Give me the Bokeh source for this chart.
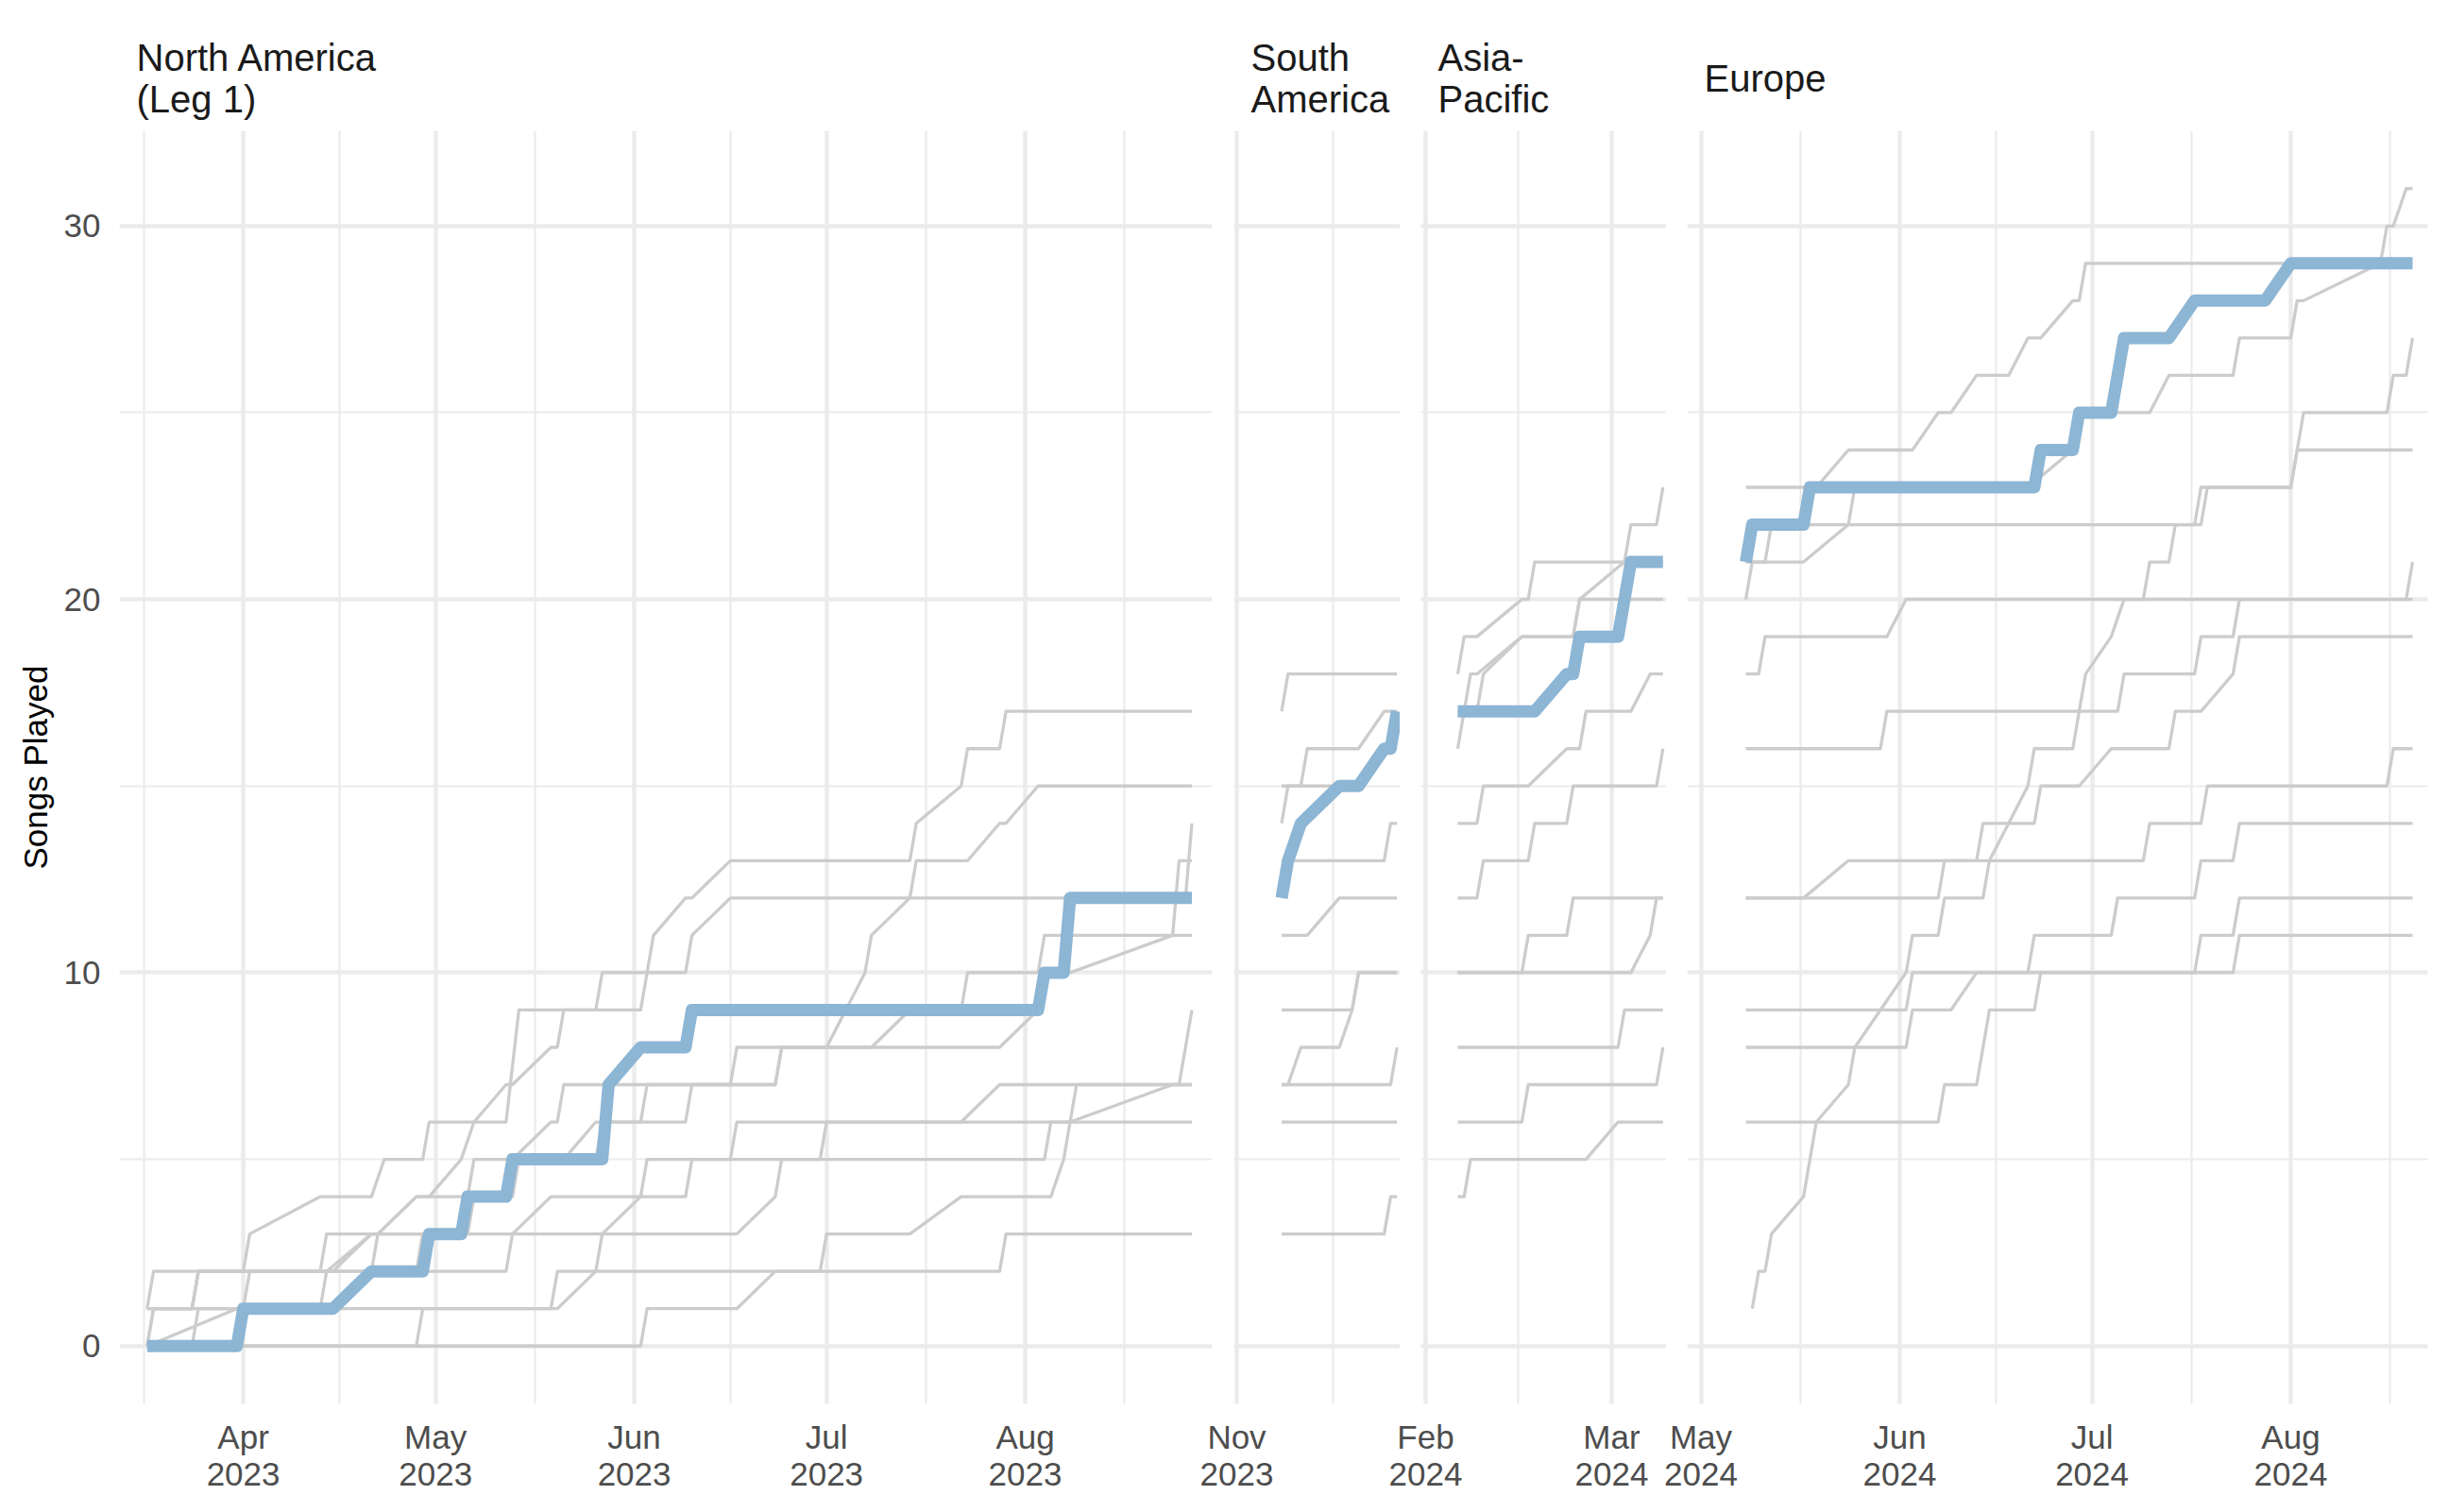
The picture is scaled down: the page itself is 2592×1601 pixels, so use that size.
import pandas as pd
from bokeh.plotting import figure
from bokeh.layouts import row
from bokeh.models import Range1d, FixedTicker, Grid
from bokeh.embed import file_html
from bokeh.resources import INLINE

FONT = "Liberation Sans"
GREY = "#CCCCCC"
BLUE = "#8DB5D4"
GRID = "#EBEBEB"

# ---------------- data ----------------
TITLES = ["North America\n(Leg 1)", "South\nAmerica", "Asia-\nPacific", "Europe"]
Y_TICKS = [0, 10, 20, 30]
Y_MINOR = [5, 15, 25]

NA_TICKS = ["2023-04-01", "2023-05-01", "2023-06-01", "2023-07-01", "2023-08-01"]
NA_MINOR = ["2023-03-16 12:00", "2023-04-16", "2023-05-16 12:00", "2023-06-16", "2023-07-16 12:00", "2023-08-16 12:00"]
SA_TICKS = ["2023-11-01"]
SA_MINOR = ["2023-11-16"]
AP_TICKS = ["2024-02-01", "2024-03-01"]
AP_MINOR = ["2024-02-15 12:00"]
EU_TICKS = ["2024-05-01", "2024-06-01", "2024-07-01", "2024-08-01"]
EU_MINOR = ["2024-05-16 12:00", "2024-06-16", "2024-07-16 12:00", "2024-08-16 12:00"]

# North America (Leg 1), 2023
NA_BLUE = [("03-17",0),("03-31",0),("04-01",1),("04-15",1),("04-21",2),("04-29",2),("04-30",3),("05-05",3),("05-06",4),("05-12",4),("05-13",5),("05-27",5),("05-28",7),("06-02",8),("06-09",8),("06-10",9),("08-03",9),("08-04",10),("08-07",10),("08-08",12),("08-27",12)]
NA_S1 = [("03-17",1),("03-18",2),("04-01",2),("04-02",3),("04-13",4),("04-21",4),("04-23",5),("04-29",5),("04-30",6),("05-12",6),("05-14",9),("06-02",9),("06-03",10),("06-04",11),("06-09",12),("06-10",12),("06-16",13),("07-14",13),("07-15",14),("07-22",15),("07-23",16),("07-28",16),("07-29",17),("08-27",17)]
NA_S2 = [("03-17",0),("03-18",1),("03-24",1),("03-25",2),("04-14",2),("04-21",3),("04-22",3),("04-28",4),("04-30",4),("05-05",5),("05-07",6),("05-12",7),("05-13",7),("05-19",8),("05-20",8),("05-21",9),("05-26",9),("05-27",10),("06-09",10),("06-10",11),("06-16",12),("07-14",12),("07-15",13),("07-23",13),("07-28",14),("07-29",14),("08-03",15),("08-27",15)]
NA_S3 = [("03-17",1),("03-24",1),("03-25",2),("04-13",2),("04-14",3),("04-22",3),("04-28",4),("05-06",4),("05-07",5),("05-13",5),("05-19",6),("05-20",6),("05-21",7),("06-23",7),("06-24",8),("07-01",8),("07-07",10),("07-08",11),("07-14",12),("08-26",12),("08-27",14)]
NA_S4 = [("03-17",1),("03-24",1),("03-25",2),("04-15",2),("04-21",3),("05-05",3),("05-06",4),("05-13",4),("05-14",5),("05-26",5),("05-27",6),("06-02",6),("06-03",7),("06-16",7),("06-17",8),("07-28",8),("08-03",9),("08-04",10),("08-08",10),("08-24",11),("08-25",13),("08-27",13)]
NA_S5 = [("03-17",0),("03-18",1),("04-13",1),("04-14",2),("04-21",2),("04-22",3),("05-06",3),("05-07",4),("05-12",4),("05-13",5),("05-21",5),("05-26",6),("06-09",6),("06-10",7),("06-23",7),("06-24",8),("07-08",8),("07-14",9),("07-22",9),("07-23",10),("08-03",10),("08-04",11),("08-27",11)]
NA_S6 = [("03-17",0),("03-24",0),("03-25",1),("04-01",1),("04-02",2),("04-28",2),("04-29",3),("05-13",3),("05-19",4),("06-02",4),("06-03",5),("06-30",5),("07-01",6),("08-08",6),("08-24",7),("08-25",7),("08-27",9)]
NA_S7 = [("03-17",0),("03-31",1),("04-15",1),("04-21",2),("05-12",2),("05-13",3),("05-27",3),("06-02",4),("06-09",4),("06-10",5),("06-16",5),("06-17",6),("07-22",6),("07-28",7),("08-27",7)]
NA_S8 = [("03-17",0),("04-28",0),("04-29",1),("05-19",1),("05-20",2),("06-30",2),("07-01",3),("07-14",3),("07-22",4),("08-05",4),("08-07",5),("08-09",7),("08-27",7)]
NA_S9 = [("03-17",1),("05-20",1),("05-26",2),("05-27",3),("06-17",3),("06-23",4),("06-24",5),("08-04",5),("08-05",6),("08-27",6)]
NA_S10 = [("03-17",0),("06-02",0),("06-03",1),("06-17",1),("06-23",2),("07-28",2),("07-29",3),("08-27",3)]

# South America, 2023
SA_BLUE = [("11-08",12),("11-09",13),("11-11",14),("11-17",15),("11-20",15),("11-24",16),("11-25",16),("11-26",17)]
SA_S1 = [("11-08",17),("11-09",18),("11-26",18)]
SA_S2 = [("11-08",15),("11-11",15),("11-12",16),("11-20",16),("11-24",17),("11-26",17)]
SA_S3 = [("11-08",14),("11-09",15),("11-20",15),("11-24",16),("11-26",16)]
SA_S4 = [("11-08",13),("11-24",13),("11-25",14),("11-26",14)]
SA_S5 = [("11-08",11),("11-12",11),("11-17",12),("11-26",12)]
SA_S6 = [("11-08",9),("11-19",9),("11-20",10),("11-26",10)]
SA_S7 = [("11-08",7),("11-09",7),("11-11",8),("11-17",8),("11-19",9),("11-20",10),("11-26",10)]
SA_S8 = [("11-08",7),("11-25",7),("11-26",8)]
SA_S9 = [("11-08",6),("11-26",6)]
SA_S10 = [("11-08",3),("11-24",3),("11-25",4),("11-26",4)]

# Asia-Pacific, 2024
AP_BLUE = [("02-06",17),("02-18",17),("02-23",18),("02-24",18),("02-25",19),("03-02",19),("03-04",21),("03-09",21)]
AP_S1 = [("02-06",18),("02-07",19),("02-09",19),("02-16",20),("02-17",20),("02-18",21),("03-09",21)]
AP_S2 = [("02-06",17),("02-09",17),("02-10",18),("02-16",19),("02-24",19),("02-25",20),("03-09",20)]
AP_S3 = [("02-06",16),("02-08",18),("02-09",18),("02-16",19),("02-24",19),("02-25",20),("03-03",21),("03-04",22),("03-08",22),("03-09",23)]
AP_S4 = [("02-06",12),("02-09",12),("02-10",13),("02-17",13),("02-18",14),("02-23",14),("02-24",15),("03-08",15),("03-09",16)]
AP_S5 = [("02-06",14),("02-09",14),("02-10",15),("02-17",15),("02-23",16),("02-25",16),("02-26",17),("03-04",17),("03-07",18),("03-09",18)]
AP_S6 = [("02-06",10),("02-16",10),("02-17",11),("02-23",11),("02-24",12),("03-09",12)]
AP_S7 = [("02-06",10),("03-04",10),("03-07",11),("03-08",12),("03-09",12)]
AP_S8 = [("02-06",8),("03-02",8),("03-03",9),("03-09",9)]
AP_S9 = [("02-06",6),("02-16",6),("02-17",7),("03-08",7),("03-09",8)]
AP_S10 = [("02-06",4),("02-07",4),("02-08",5),("02-26",5),("03-02",6),("03-09",6)]

# Europe, 2024
EU_BLUE = [("05-08",21),("05-09",22),("05-17",22),("05-18",23),("06-22",23),("06-23",24),("06-28",24),("06-29",25),("07-04",25),("07-06",27),("07-13",27),("07-17",28),("07-28",28),("08-01",29),("08-20",29)]
EU_S1 = [("05-08",23),("05-19",23),("05-24",24),("06-03",24),("06-07",25),("06-09",25),("06-13",26),("06-18",26),("06-21",27),("06-23",27),("06-28",28),("06-29",28),("06-30",29),("08-20",29)]
EU_S2 = [("05-08",21),("05-11",21),("05-12",22),("05-24",22),("05-25",23),("06-21",23),("06-28",24),("06-29",25),("07-10",25),("07-13",26),("07-23",26),("07-24",27),("08-01",27),("08-02",28),("08-03",28),("08-15",29),("08-16",30),("08-17",30),("08-19",31),("08-20",31)]
EU_S3 = [("05-08",20),("05-09",21),("05-17",21),("05-24",22),("07-17",22),("07-18",23),("08-01",23),("08-03",25),("08-16",25),("08-17",26),("08-19",26),("08-20",27)]
EU_S4 = [("05-08",18),("05-10",18),("05-11",19),("05-30",19),("06-02",20),("07-09",20),("08-20",20)]
EU_S5 = [("05-08",16),("05-29",16),("05-30",17),("07-05",17),("07-06",18),("07-17",18),("07-18",19),("07-23",19),("07-24",20),("08-19",20),("08-20",21)]
EU_S6 = [("05-08",12),("05-17",12),("05-24",13),("06-13",13),("06-14",14),("06-22",14),("06-23",15),("06-29",15),("07-04",16),("07-13",16),("07-14",17),("07-18",17),("07-23",18),("07-24",19),("08-20",19)]
EU_S7 = [("05-08",12),("06-07",12),("06-08",13),("07-09",13),("07-10",14),("07-18",14),("07-19",15),("08-16",15),("08-17",16),("08-20",16)]
EU_S8 = [("05-08",9),("06-02",9),("06-03",10),("06-21",10),("06-22",11),("07-04",11),("07-05",12),("07-17",12),("07-18",13),("07-23",13),("07-24",14),("08-20",14)]
EU_S9 = [("05-08",8),("06-02",8),("06-03",9),("06-09",9),("06-13",10),("07-17",10),("07-18",11),("07-23",11),("07-24",12),("08-20",12)]
EU_S10 = [("05-08",6),("06-07",6),("06-08",7),("06-13",7),("06-15",9),("06-22",9),("06-23",10),("07-23",10),("07-24",11),("08-20",11)]
EU_S11 = [("05-09",1),("05-10",2),("05-11",2),("05-12",3),("05-17",4),("05-19",6),("05-24",7),("05-25",8),("05-29",9),("06-02",10),("06-03",11),("06-07",11),("06-08",12),("06-14",12),("06-15",13),("06-21",15),("06-22",16),("06-28",16),("06-30",18),("07-04",19),("07-06",20),("07-09",20),("07-10",21),("07-13",21),("07-14",22),("07-18",22),("07-19",23),("08-01",23),("08-02",24),("08-20",24)]

# --------------- helpers ---------------
def ms(s):
    return pd.Timestamp(s).value / 1e6

def series_xy(year, pts):
    return [ms(f"{year}-{d}") for d, _ in pts], [v for _, v in pts]

PANELS = [
    dict(title=TITLES[0], year=2023, xr=("2023-03-12 16:30", "2023-08-30 04:00"), fw=1157,
         ticks=NA_TICKS, minor=NA_MINOR, blue=NA_BLUE,
         greys=[NA_S1, NA_S2, NA_S3, NA_S4, NA_S5, NA_S6, NA_S7, NA_S8, NA_S9, NA_S10]),
    dict(title=TITLES[1], year=2023, xr=("2023-10-31 13:24", "2023-11-26 11:45"), fw=176,
         ticks=SA_TICKS, minor=SA_MINOR, blue=SA_BLUE,
         greys=[SA_S1, SA_S2, SA_S3, SA_S4, SA_S5, SA_S6, SA_S7, SA_S8, SA_S9, SA_S10]),
    dict(title=TITLES[2], year=2024, xr=("2024-01-31 06:20", "2024-03-09 13:06"), fw=260,
         ticks=AP_TICKS, minor=AP_MINOR, blue=AP_BLUE,
         greys=[AP_S1, AP_S2, AP_S3, AP_S4, AP_S5, AP_S6, AP_S7, AP_S8, AP_S9, AP_S10]),
    dict(title=TITLES[3], year=2024, xr=("2024-04-28 20:44", "2024-08-22 08:40"), fw=784,
         ticks=EU_TICKS, minor=EU_MINOR, blue=EU_BLUE,
         greys=[EU_S1, EU_S2, EU_S3, EU_S4, EU_S5, EU_S6, EU_S7, EU_S8, EU_S9, EU_S10, EU_S11]),
]

figs = []
for i, P in enumerate(PANELS):
    first = i == 0
    last = i == len(PANELS) - 1
    p = figure(frame_width=P["fw"], frame_height=1348, x_axis_type="datetime",
               x_range=Range1d(ms(P["xr"][0]), ms(P["xr"][1])),
               y_range=Range1d(-1.55, 32.55),
               y_axis_location="left" if first else None,
               output_backend="svg", toolbar_location=None,
               min_border_left=118 if first else 60,
               min_border_right=4 if last else 0,
               min_border_top=130, min_border_bottom=102,
               border_fill_color=None, background_fill_color="white",
               outline_line_color=None)
    # title (strip)
    p.title.text = P["title"]
    p.title.text_font = FONT
    p.title.text_font_size = "40px"
    p.title.text_font_style = "normal"
    p.title.text_color = "#1A1A1A"
    p.title.text_line_height = 1.0
    p.title.offset = 18
    p.title.standoff = 67 if "\n" not in P["title"] else 23

    # x axis
    tk = [ms(t) for t in P["ticks"]]
    xt = FixedTicker(ticks=tk, minor_ticks=[ms(t) for t in P["minor"]])
    xa = p.xaxis[0]
    xa.ticker = xt
    xa.major_label_overrides = {t: pd.Timestamp(s).strftime("%b\n%Y") for t, s in zip(tk, P["ticks"])}
    xa.major_label_text_font = FONT
    xa.major_label_text_font_size = "35px"
    xa.major_label_text_color = "#4D4D4D"
    xa.major_label_text_line_height = 1.0
    xa.major_label_standoff = 9
    xa.axis_line_color = None
    xa.major_tick_line_color = None
    xa.minor_tick_line_color = None
    p.xgrid.grid_line_color = GRID
    p.xgrid.grid_line_width = 4.4
    p.xgrid.minor_grid_line_color = GRID
    p.xgrid.minor_grid_line_width = 2.2

    yt = FixedTicker(ticks=Y_TICKS, minor_ticks=Y_MINOR)
    if first:
        ya = p.yaxis[0]
        ya.ticker = yt
        ya.axis_label = "Songs Played"
        ya.axis_label_text_font = FONT
        ya.axis_label_text_font_size = "35px"
        ya.axis_label_text_font_style = "normal"
        ya.axis_label_text_color = "#000000"
        ya.axis_label_standoff = 8
        ya.major_label_text_font = FONT
        ya.major_label_text_font_size = "35px"
        ya.major_label_text_color = "#4D4D4D"
        ya.major_label_standoff = 14
        ya.axis_line_color = None
        ya.major_tick_line_color = None
        ya.minor_tick_line_color = None
        yg = p.ygrid[0]
    else:
        yg = Grid(dimension=1, ticker=yt)
        p.add_layout(yg)
    yg.grid_line_color = GRID
    yg.grid_line_width = 4.4
    yg.minor_grid_line_color = GRID
    yg.minor_grid_line_width = 2.2

    for s in P["greys"]:
        x, y = series_xy(P["year"], s)
        p.line(x, y, line_color=GREY, line_width=3.3, line_join="round")
    x, y = series_xy(P["year"], P["blue"])
    p.line(x, y, line_color=BLUE, line_width=13, line_join="round")

    if not first:
        p.margin = (0, 0, 0, -38 if i > 1 else -37)
    figs.append(p)

layout = row(*figs, margin=(8, 0, 0, 8))
open("out.html", "w").write(file_html(layout, INLINE))
